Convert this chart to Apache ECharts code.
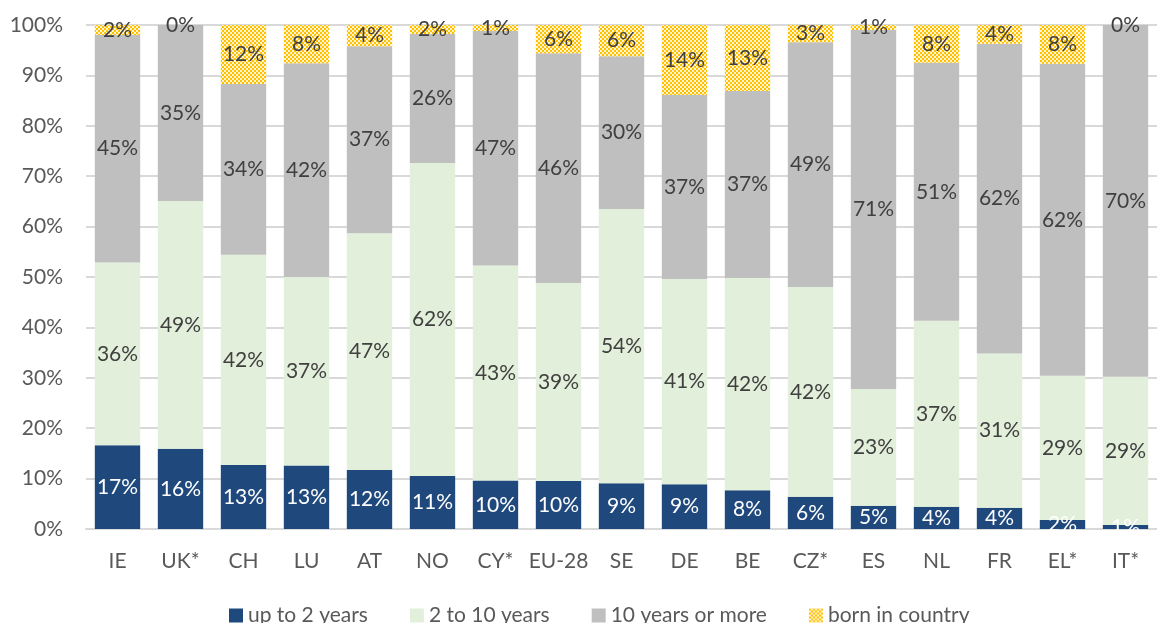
<!DOCTYPE html>
<html>
<head>
<meta charset="utf-8">
<title>Length of residence</title>
<script src="https://cdn.jsdelivr.net/npm/echarts@6/dist/echarts.min.js"></script>
<style>
  html, body { margin: 0; padding: 0; background: #fff; }
  #chart { width: 1157px; height: 623px; }
</style>
</head>
<body>
<div id="chart"></div>
<script>
// categories + shares (%)
const countries = ['IE', 'UK*', 'CH', 'LU', 'AT', 'NO', 'CY*', 'EU-28', 'SE', 'DE', 'BE', 'CZ*', 'ES', 'NL', 'FR', 'EL*', 'IT*']
const upTo2 = [16.6, 15.9, 12.7, 12.6, 11.7, 10.5, 9.6, 9.5, 9.1, 8.9, 7.7, 6.4, 4.6, 4.4, 4.2, 1.8, 0.8]
const from2to10 = [36.3, 49.2, 41.7, 37.4, 47.0, 62.1, 42.7, 39.3, 54.4, 40.7, 42.1, 41.6, 23.2, 36.9, 30.6, 28.6, 29.4]
const over10 = [45.1, 34.9, 33.9, 42.4, 37.1, 25.6, 46.5, 45.6, 30.3, 36.5, 37.1, 48.6, 71.2, 51.2, 61.5, 61.9, 69.8]
const bornIn = [2.0, 0, 11.7, 7.6, 4.2, 1.8, 1.2, 5.6, 6.2, 13.9, 13.1, 3.4, 1.0, 7.5, 3.7, 7.7, 0]
const yTicks = { min: 0, max: 100, interval: 10 }

const font = 'Lato, "Open Sans", sans-serif'

// checker pattern for the "born in country" segments (2px cells)
const tile = document.createElement('canvas')
tile.width = 4
tile.height = 4
const ctx = tile.getContext('2d')
ctx.fillStyle = '#ffc000'
ctx.fillRect(0, 0, 4, 4)
ctx.fillStyle = '#fff4d0'
ctx.fillRect(2, 0, 2, 2)
ctx.fillRect(0, 2, 2, 2)
const yellowPattern = { image: tile, repeat: 'repeat' }

function pctLabel(color) {
  return {
    show: true,
    position: 'inside',
    color: color,
    fontFamily: font,
    fontSize: 21,
    formatter(p) {
      return Math.round(p.value) + '%'
    }
  }
}

const chart = echarts.init(document.getElementById('chart'))

chart.setOption({
  animation: false,
  textStyle: { fontFamily: font },
  grid: {
    left: 86,
    right: 0,
    top: 25,
    bottom: 94
  },
  legend: {
    left: 224,
    top: 600,
    itemWidth: 14,
    itemHeight: 14,
    itemGap: 42,
    icon: 'rect',
    textStyle: {
      color: '#595959',
      fontSize: 21,
      fontFamily: font
    },
    data: ['up to 2 years', '2 to 10 years', '10 years or more', 'born in country']
  },
  xAxis: {
    type: 'category',
    data: countries,
    axisTick: { show: false },
    axisLine: {
      lineStyle: { color: '#d9d9d9', width: 2 }
    },
    axisLabel: {
      color: '#595959',
      fontSize: 21,
      margin: 22,
      interval: 0
    }
  },
  yAxis: {
    type: 'value',
    min: yTicks.min,
    max: yTicks.max,
    interval: yTicks.interval,
    axisLine: { show: false },
    axisTick: { show: false },
    axisLabel: {
      color: '#595959',
      fontSize: 21,
      margin: 23,
      formatter: '{value}%'
    },
    splitLine: {
      lineStyle: { color: '#d9d9d9', width: 2 }
    }
  },
  series: [
    {
      name: 'up to 2 years',
      type: 'bar',
      stack: 'total',
      barCategoryGap: '28%',
      itemStyle: { color: '#1f497d' },
      label: pctLabel('#ffffff'),
      data: upTo2
    },
    {
      name: '2 to 10 years',
      type: 'bar',
      stack: 'total',
      itemStyle: { color: '#e2efda' },
      label: pctLabel('#404040'),
      data: from2to10
    },
    {
      name: '10 years or more',
      type: 'bar',
      stack: 'total',
      itemStyle: { color: '#bfbfbf' },
      label: pctLabel('#404040'),
      data: over10
    },
    {
      name: 'born in country',
      type: 'bar',
      stack: 'total',
      itemStyle: { color: yellowPattern },
      label: pctLabel('#404040'),
      data: bornIn
    }
  ]
})
</script>
</body>
</html>
